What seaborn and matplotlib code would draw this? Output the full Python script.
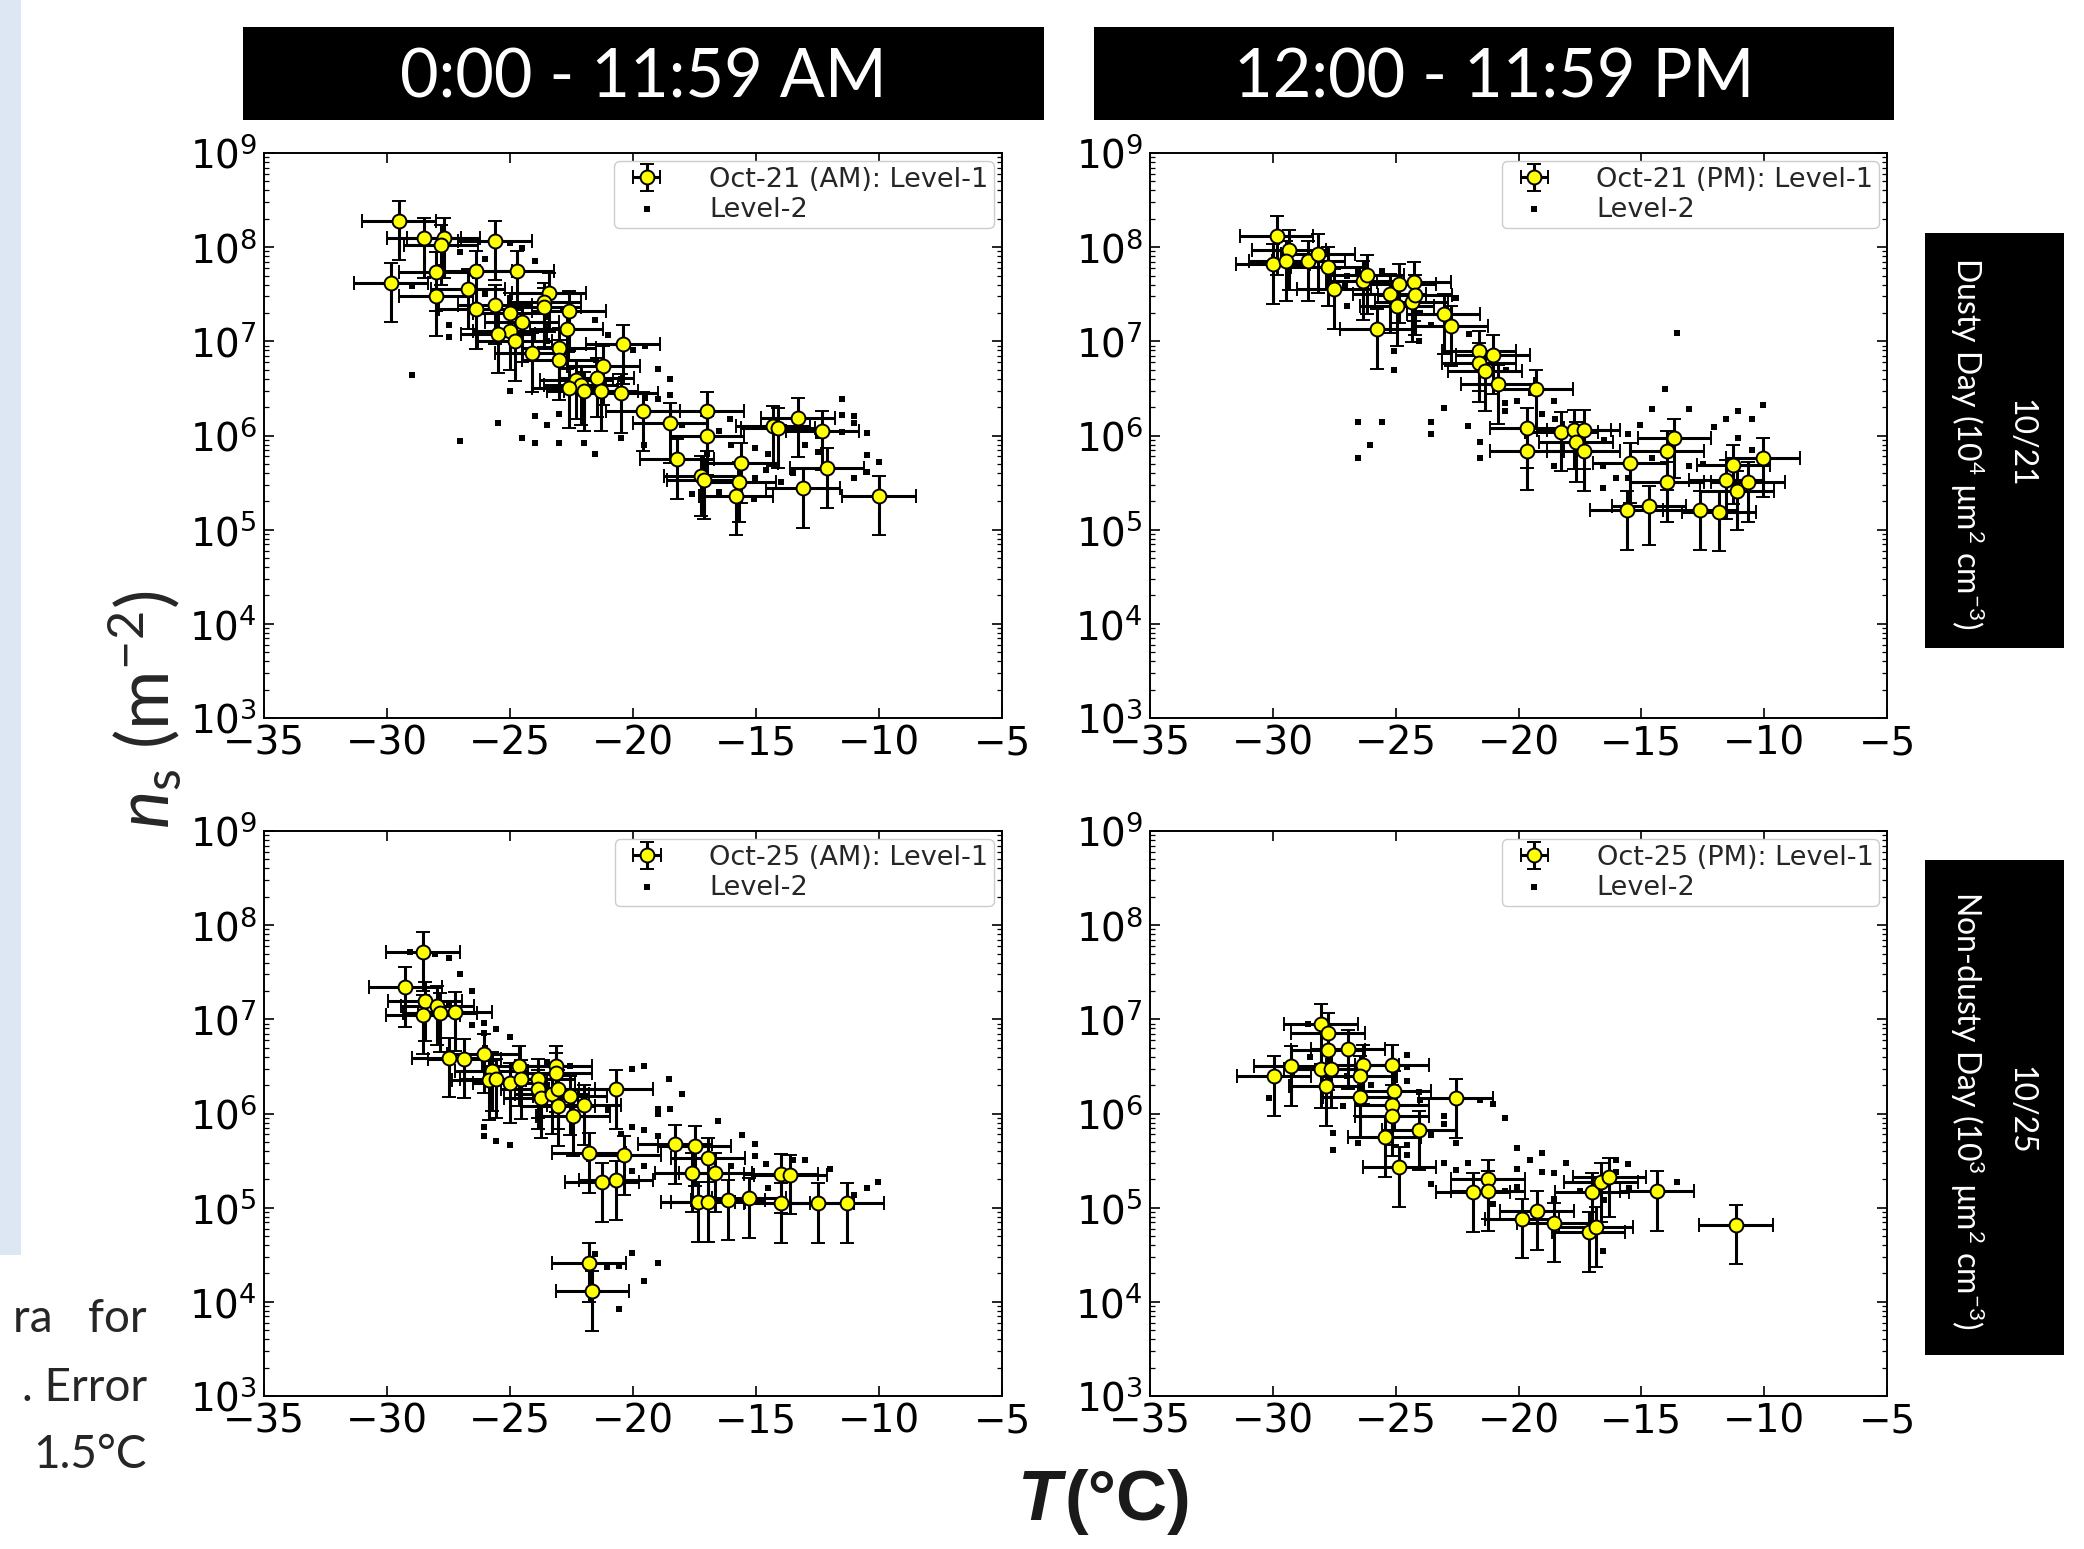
import numpy as np
import matplotlib
matplotlib.use("Agg")
import matplotlib.pyplot as plt
import matplotlib.ticker as mticker
from matplotlib.patches import Rectangle
import seaborn as sns

# ---------------- data ----------------
# Oct-21, AM
am21_l1_t = [-29.5, -29.85, -28.5, -27.7, -27.8, -25.6, -28.0, -26.4, -24.7, -26.7,
             -28.0, -26.4, -25.6, -25.0, -23.4, -23.6, -23.6, -22.6, -24.5, -25.0,
             -25.5, -24.8, -24.1, -22.7, -23.0, -23.0, -20.4, -21.2, -21.45, -22.3,
             -22.1, -22.6, -22.0, -21.3, -20.5, -19.6, -18.5, -17.0, -17.0, -18.2,
             -17.25, -17.1, -15.6, -15.7, -15.8, -14.3, -14.1, -13.3, -12.3, -13.1,
             -12.1, -10.0]
am21_l1_ns = [1.9e8, 4.2e7, 1.25e8, 1.25e8, 1.05e8, 1.17e8, 5.5e7, 5.6e7, 5.6e7, 3.6e7,
              3.0e7, 2.2e7, 2.45e7, 2.0e7, 3.3e7, 2.6e7, 2.3e7, 2.1e7, 1.6e7, 1.3e7,
              1.2e7, 1.0e7, 7.6e6, 1.35e7, 8.5e6, 6.3e6, 9.3e6, 5.5e6, 4.1e6, 3.9e6,
              3.4e6, 3.2e6, 2.95e6, 2.95e6, 2.8e6, 1.8e6, 1.35e6, 1.8e6, 1.0e6, 5.6e5,
              3.7e5, 3.4e5, 5.1e5, 3.2e5, 2.3e5, 1.26e6, 1.2e6, 1.55e6, 1.12e6, 2.75e5,
              4.5e5, 2.3e5]
am21_l2_t = [-29.0, -27.05, -25.5, -24.5, -24.0, -23.0, -22.0, -21.55, -20.5, -24.0,
             -23.5, -23.0, -25.0, -19.0, -18.5, -18.5, -19.0, -11.5, -11.5, -11.0,
             -10.5, -11.0, -10.5, -10.0, -11.0, -15.05, -15.05, -15.1, -16.5, -16.05,
             -19.55, -21.55, -21.0, -19.5, -20.0, -24.0, -24.5, -26.0, -27.5, -27.5,
             -27.05, -29.0, -25.0, -13.0, -12.5, -12.5, -14.6, -14.0, -17.6, -16.5,
             -11.5, -10.5, -26.0, -24.5, -23.5, -22.5, -21.5, -20.5, -19.5, -18.0,
             -17.0, -16.0, -14.5, -13.5]
am21_l2_ns = [4.4e6, 8.7e5, 1.35e6, 9.3e5, 8.3e5, 8.3e5, 8.3e5, 6.3e5, 9.3e5, 1.6e6,
              1.3e6, 1.7e6, 3.0e6, 5.1e6, 4.0e6, 2.7e6, 2.45e6, 2.45e6, 1.66e6, 1.6e6,
              1.07e6, 1.35e6, 6.2e5, 5.2e5, 3.5e5, 7.4e5, 3.5e5, 2.1e5, 1.12e6, 1.5e6,
              7.9e5, 1.7e7, 1.17e7, 8.9e6, 8.1e6, 7.2e7, 9.8e7, 7.4e7, 1.5e7, 1.12e7,
              8.9e7, 3.9e7, 1.1e8, 7.9e5, 1.0e6, 6.6e5, 4.3e5, 3.2e5, 2.4e5, 2.5e5,
              1.1e6, 4.1e5, 3.2e7, 2.5e7, 1.0e7, 8.0e6, 6.3e6, 4.0e6, 2.5e6, 1.3e6,
              6.3e5, 8.0e5, 6.3e5, 4.0e5]

# Oct-21, PM
pm21_l1_t = [-29.85, -30.0, -29.35, -29.45, -28.55, -28.15, -27.75, -27.5, -26.35, -26.15,
             -25.75, -25.25, -24.85, -24.25, -24.95, -24.35, -24.2, -23.05, -22.75, -21.6,
             -21.6, -21.05, -21.35, -20.85, -19.3, -19.65, -19.65, -18.25, -17.75, -17.35,
             -17.65, -17.35, -15.45, -15.6, -14.7, -13.95, -13.65, -13.95, -12.6, -11.85,
             -11.25, -11.55, -11.1, -10.65, -10.05]
pm21_l1_ns = [1.32e8, 6.6e7, 9.3e7, 7.1e7, 7.1e7, 8.5e7, 6.2e7, 3.6e7, 4.4e7, 5.1e7,
              1.35e7, 3.2e7, 4.1e7, 4.3e7, 2.35e7, 2.6e7, 3.1e7, 1.95e7, 1.45e7, 7.9e6,
              5.9e6, 7.2e6, 4.8e6, 3.5e6, 3.1e6, 1.2e6, 6.9e5, 1.1e6, 1.15e6, 1.15e6,
              8.5e5, 6.8e5, 5.1e5, 1.6e5, 1.8e5, 6.9e5, 9.3e5, 3.2e5, 1.6e5, 1.55e5,
              4.9e5, 3.4e5, 2.6e5, 3.2e5, 5.8e5]
pm21_l2_t = [-27.0, -26.55, -26.55, -25.55, -26.05, -25.05, -25.05, -23.55, -23.55, -23.05,
             -22.05, -21.55, -21.55, -20.55, -20.55, -20.05, -19.5, -18.55, -19.05, -18.55,
             -16.55, -16.05, -16.55, -13.55, -14.05, -14.55, -13.05, -15.05, -15.55, -14.55,
             -13.05, -12.05, -11.55, -11.05, -10.5, -10.05, -11.05, -10.5, -15.55, -22.55,
             -23.55, -24.05, -26.55, -25.55, -27.05, -28.5, -27.0, -24.0, -22.0, -20.5,
             -18.5, -16.5, -12.5]
pm21_l2_ns = [2.35e7, 1.4e6, 5.8e5, 1.4e6, 7.9e5, 7.8e6, 5.0e6, 1.4e6, 1.05e6, 1.95e6,
              1.26e6, 8.5e5, 5.8e5, 1.8e6, 2.2e6, 2.3e6, 2.8e6, 2.3e6, 1.7e6, 4.8e5,
              4.8e5, 3.5e5, 2.8e5, 1.23e7, 3.1e6, 1.9e6, 1.9e6, 1.3e6, 1.05e6, 5.8e5,
              4.8e5, 1.23e6, 1.5e6, 1.8e6, 1.5e6, 2.1e6, 9.5e5, 7.1e5, 3.5e5, 2.9e7,
              1.5e7, 1.0e7, 5.6e7, 5.6e7, 4.0e7, 8.0e7, 5.0e7, 2.0e7, 1.2e7, 5.0e6,
              1.5e6, 9.0e5, 5.0e5]

# Oct-25, AM
am25_l1_t = [-28.55, -29.25, -28.45, -27.95, -28.55, -27.85, -27.25, -27.5, -26.85, -26.05,
             -25.75, -25.85, -25.55, -25.0, -24.65, -24.55, -23.85, -23.85, -23.75, -23.3,
             -23.15, -23.15, -23.05, -23.05, -22.55, -22.45, -22.0, -20.7, -21.8, -20.35,
             -21.25, -20.7, -18.3, -17.5, -16.95, -17.6, -16.65, -17.35, -16.95, -16.15,
             -15.3, -14.0, -13.6, -14.0, -12.5, -11.3, -21.8, -21.65]
am25_l1_ns = [5.2e7, 2.2e7, 1.55e7, 1.4e7, 1.12e7, 1.17e7, 1.2e7, 3.9e6, 3.8e6, 4.3e6,
              2.8e6, 2.25e6, 2.35e6, 2.1e6, 3.2e6, 2.3e6, 2.35e6, 1.8e6, 1.45e6, 1.6e6,
              3.2e6, 2.7e6, 1.8e6, 1.2e6, 1.55e6, 9.3e5, 1.23e6, 1.8e6, 3.8e5, 3.6e5,
              1.86e5, 1.95e5, 4.7e5, 4.5e5, 3.4e5, 2.35e5, 2.35e5, 1.15e5, 1.15e5, 1.2e5,
              1.26e5, 2.3e5, 2.25e5, 1.12e5, 1.12e5, 1.12e5, 2.6e4, 1.3e4]
am25_l2_t = [-29.05, -28.05, -27.5, -27.05, -26.55, -26.05, -25.55, -25.0, -26.55, -26.05,
             -26.05, -26.05, -25.55, -25.0, -20.05, -19.55, -18.55, -18.0, -19.0, -18.5,
             -19.0, -20.05, -19.55, -19.0, -16.55, -15.55, -15.05, -15.05, -14.6, -13.5,
             -13.0, -12.0, -10.5, -10.05, -11.0, -20.05, -19.0, -19.55, -20.55, -21.55,
             -21.05, -20.55, -19.55, -20.05, -22.55, -23.5, -27.5, -26.0, -24.5, -23.5,
             -22.0, -21.0, -20.5, -17.0, -16.0, -14.5]
am25_l2_ns = [5.2e7, 5.0e7, 4.5e7, 3.0e7, 2.0e7, 9.1e6, 7.9e6, 6.5e6, 8.7e6, 7.1e6,
              7.2e5, 5.8e5, 5.1e5, 4.6e5, 3.0e6, 3.2e6, 2.3e6, 1.6e6, 1.12e6, 1.12e6,
              1.0e6, 7.2e5, 6.6e5, 5.8e5, 8.3e5, 5.9e5, 4.7e5, 3.5e5, 2.9e5, 3.2e5,
              3.2e5, 2.6e5, 1.6e5, 1.86e5, 1.35e5, 3.3e4, 2.6e4, 1.66e4, 8.3e3, 3.2e4,
              2.35e4, 2.4e4, 2.75e5, 2.45e5, 3.2e6, 3.5e6, 1.5e7, 5.0e6, 3.0e6, 2.0e6,
              1.5e6, 1.1e6, 6.0e5, 3.5e5, 2.8e5, 1.6e5]

# Oct-25, PM
pm25_l1_t = [-29.95, -29.25, -28.05, -27.75, -27.75, -28.05, -27.65, -27.85, -26.95, -26.35,
             -26.45, -26.45, -25.15, -25.05, -25.15, -25.15, -25.45, -24.05, -24.85, -22.55,
             -21.85, -21.25, -21.25, -19.85, -19.25, -18.55, -17.15, -16.85, -17.0, -16.65,
             -16.3, -14.35, -11.15]
pm25_l1_ns = [2.5e6, 3.2e6, 8.9e6, 7.2e6, 4.7e6, 3.0e6, 3.0e6, 1.95e6, 4.8e6, 3.3e6,
              2.5e6, 1.48e6, 3.3e6, 1.74e6, 1.23e6, 9.3e5, 5.6e5, 6.6e5, 2.7e5, 1.45e6,
              1.45e5, 2.0e5, 1.5e5, 7.6e4, 9.3e4, 6.9e4, 5.5e4, 6.2e4, 1.45e5, 1.86e5,
              2.1e5, 1.5e5, 6.6e4]
pm25_l2_t = [-28.55, -30.15, -27.55, -27.55, -26.55, -27.15, -24.55, -24.55, -24.55, -24.05,
             -23.05, -23.05, -23.55, -22.55, -23.05, -23.55, -22.55, -22.05, -21.55, -21.05,
             -20.55, -20.05, -19.55, -19.05, -20.05, -19.05, -18.55, -18.05, -18.55, -20.05,
             -13.55, -16.05, -16.05, -15.55, -17.05, -16.55, -21.05, -20.55, -24.55, -24.55,
             -28.5, -27.0, -26.0, -25.0, -24.0, -17.5, -16.5, -15.5]
pm25_l2_ns = [8.9e6, 1.45e6, 6.2e5, 4.1e5, 4.9e5, 1.2e6, 4.2e6, 3.1e6, 2.2e6, 1.7e6,
              9.3e5, 7.8e5, 5.9e5, 4.9e5, 3.0e5, 1.8e5, 2.5e5, 2.95e5, 1.38e6, 1.26e6,
              8.9e5, 4.3e5, 3.2e5, 3.8e5, 2.6e5, 2.4e5, 2.35e5, 3.0e5, 1.23e5, 1.66e5,
              1.86e5, 3.2e5, 2.4e5, 2.9e5, 8.3e4, 3.5e4, 1.1e5, 1.5e5, 4.6e5, 3.6e5,
              4.0e6, 2.5e6, 2.0e6, 1.1e6, 1.4e6, 1.5e5, 1.2e5, 1.6e5]

T_ERR = 1.5        # degC, horizontal error bar half-width
NS_REL_ERR = 0.62  # relative uncertainty on n_s

col_headers = ["0:00 - 11:59 AM", "12:00 - 11:59 PM"]
row_headers = ["10/21\nDusty Day (10$^4$ µm$^2$ cm$^{-3}$)",
               "10/25\nNon-dusty Day (10$^3$ µm$^2$ cm$^{-3}$)"]
legend_titles = ["Oct-21 (AM): Level-1", "Oct-21 (PM): Level-1",
                 "Oct-25 (AM): Level-1", "Oct-25 (PM): Level-1"]
x_ticks = [-35, -30, -25, -20, -15, -10, -5]

panels = [
    (am21_l1_t, am21_l1_ns, am21_l2_t, am21_l2_ns),
    (pm21_l1_t, pm21_l1_ns, pm21_l2_t, pm21_l2_ns),
    (am25_l1_t, am25_l1_ns, am25_l2_t, am25_l2_ns),
    (pm25_l1_t, pm25_l1_ns, pm25_l2_t, pm25_l2_ns),
]

# ---------------- style ----------------
sns.set_style("ticks")
plt.rcParams['font.family'] = ['DejaVu Sans']
plt.rcParams['mathtext.fontset'] = 'dejavusans'
plt.rcParams['mathtext.rm'] = 'Lato'
plt.rcParams['mathtext.it'] = 'Lato:italic'
plt.rcParams['mathtext.bf'] = 'Lato:bold'
plt.rcParams['mathtext.sf'] = 'Lato'

W, H = 2084, 1549
fig = plt.figure(figsize=(W / 100, H / 100), dpi=100)


def fx(px):
    return px / W


def fy(py):
    return 1 - py / H


# axes boxes in pixel coordinates (left, top, right, bottom)
ax_boxes = [(264, 153, 1002, 718), (1150, 153, 1887, 718),
            (264, 831, 1002, 1396), (1150, 831, 1887, 1396)]

for i, (box, data) in enumerate(zip(ax_boxes, panels)):
    l, t, r, b = box
    ax = fig.add_axes([fx(l), fy(b), fx(r) - fx(l), fy(t) - fy(b)])
    l1_t, l1_ns, l2_t, l2_ns = data

    sns.scatterplot(x=l2_t, y=l2_ns, ax=ax, marker='s', s=18, color='black',
                    linewidth=0, label='Level-2', zorder=2)
    ns = np.array(l1_ns)
    ax.errorbar(l1_t, ns, xerr=T_ERR, yerr=NS_REL_ERR * ns, fmt='o',
                mfc='yellow', mec='black', mew=1.4, ms=10, ecolor='black',
                elinewidth=2.2, capsize=5, capthick=2.2, label=legend_titles[i],
                zorder=3)

    ax.set_yscale('log')
    ax.set_xlim(-35, -5)
    ax.set_ylim(1e3, 1e9)
    ax.set_xticks(x_ticks)
    ax.yaxis.set_major_locator(mticker.LogLocator(base=10, numticks=20))
    ax.yaxis.set_minor_locator(mticker.LogLocator(base=10, subs=np.arange(2, 10), numticks=100))
    ax.yaxis.set_minor_formatter(mticker.NullFormatter())
    ax.tick_params(which='both', direction='in', top=True, right=True, colors='black')
    ax.tick_params(which='major', length=7, width=1.2, labelsize=28, pad=5)
    ax.tick_params(which='minor', length=3.5, width=0.9)
    for sp in ax.spines.values():
        sp.set_linewidth(1.4)
        sp.set_color('black')

    handles, labels = ax.get_legend_handles_labels()
    order = [labels.index(legend_titles[i]), labels.index('Level-2')]
    ax.legend([handles[j] for j in order], [labels[j] for j in order],
              loc='upper right', fontsize=19.5, frameon=True, fancybox=True,
              edgecolor='0.8', framealpha=1, labelspacing=0.15, borderpad=0.2,
              handlelength=2.0, handletextpad=1.3, borderaxespad=0.3)

# ---------------- header boxes ----------------
for (x0, x1), txt in zip([(243, 1044), (1094, 1894)], col_headers):
    fig.add_artist(Rectangle((fx(x0), fy(120)), fx(x1) - fx(x0), fy(27) - fy(120),
                             transform=fig.transFigure, facecolor='black', edgecolor='none'))
    fig.text(fx((x0 + x1) / 2), fy(78), txt, color='white', fontsize=48,
             family='Lato', ha='center', va='center')

for (y0, y1), txt in zip([(233, 648), (860, 1355)], row_headers):
    fig.add_artist(Rectangle((fx(1925), fy(y1)), fx(2064) - fx(1925), fy(y0) - fy(y1),
                             transform=fig.transFigure, facecolor='black', edgecolor='none'))
    fig.text(fx(1992), fy((y0 + y1) / 2 + 3), txt, color='white', fontsize=23,
             family='Lato', math_fontfamily='custom', rotation=-90,
             ha='center', va='center', multialignment='center', linespacing=1.6)

# ---------------- left margin fragment ----------------
fig.add_artist(Rectangle((0, fy(1255)), fx(21), fy(0) - fy(1255),
                         transform=fig.transFigure, facecolor='#dde7f3', edgecolor='none'))
for txt, yy in zip(["ra   for", ". Error", "1.5°C"], [1319, 1388, 1455]):
    fig.text(fx(147), fy(yy), txt, fontsize=33, family='Lato', ha='right', va='center')

# ---------------- shared axis labels ----------------
fig.text(fx(144), fy(710), r"$n_\mathrm{s}$ (m$^{\mathrm{-2}}$)", fontsize=52,
         family='Lato', math_fontfamily='custom', rotation=90, ha='center', va='center')
fig.text(fx(1061), fy(1520), "T", fontsize=51, family='Liberation Sans',
         weight='bold', style='italic', ha='right', va='baseline', color='#1a1a1a')
fig.text(fx(1064), fy(1520), "(°C)", fontsize=51, family='Liberation Sans',
         weight='bold', ha='left', va='baseline', color='#1a1a1a')

fig.savefig("out.png", dpi=100)
